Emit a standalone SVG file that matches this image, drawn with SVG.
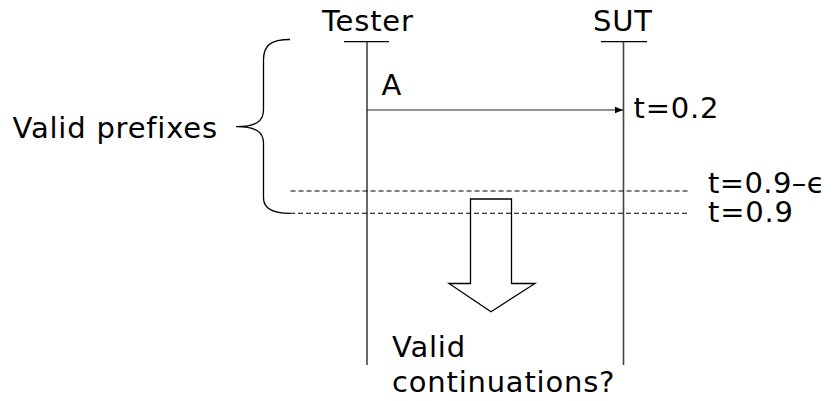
<svg xmlns="http://www.w3.org/2000/svg" width="834" height="401" viewBox="0 0 834 401">
  <defs>
    <style>
      .lbl { font-family: "DejaVu Sans", "Liberation Sans", sans-serif; font-size: 29px; letter-spacing: 0.8px; fill: #000; }
      .tight { letter-spacing: 0.4px; }
      .life { stroke: #444; stroke-width: 1.6; fill: none; }
      .head { stroke: #000; stroke-width: 1.2; fill: none; }
      .msg { stroke: #222; stroke-width: 1.2; fill: none; }
      .cut { stroke: #000; stroke-width: 1.1; stroke-dasharray: 5 3; fill: none; }
      .brace { stroke: #000; stroke-width: 1.3; fill: none; }
      .block { stroke: #000; stroke-width: 1.3; fill: #fff; }
    </style>
    <marker id="tip" viewBox="0 0 10 10" refX="10" refY="5" markerWidth="8" markerHeight="8" markerUnits="userSpaceOnUse" orient="auto">
      <path d="M0,1 L10,5 L0,9 z" fill="#000"/>
    </marker>
  </defs>

  <rect width="834" height="401" fill="#fff"/>

  <!-- lifeline: Tester -->
  <g id="tester">
    <text class="lbl" x="322" y="31">Tester</text>
    <line class="head" x1="344" y1="41.7" x2="389" y2="41.7"/>
    <line class="life" x1="367" y1="41.7" x2="367" y2="365"/>
  </g>

  <!-- lifeline: SUT -->
  <g id="sut">
    <text class="lbl" x="593" y="31">SUT</text>
    <line class="head" x1="601" y1="41.7" x2="647" y2="41.7"/>
    <line class="life" x1="623.5" y1="41.7" x2="623.5" y2="365"/>
  </g>

  <!-- bracket over the prefix region -->
  <g id="prefixes">
    <text class="lbl" x="12.5" y="138.3">Valid prefixes</text>
    <path class="brace" d="M290,39.5 C271,39.5 263.5,45 263.5,60 L263.5,110 C263.5,121 256,126.7 236,126.7 C256,126.7 263.5,132 263.5,143 L263.5,198 C263.5,208 271,213.3 290,213.3"/>
  </g>

  <!-- time labels -->
  <g id="t02"><text class="lbl" x="633.5" y="117.7">t=0.2</text></g>
  <g id="t09e"><text class="lbl tight" x="708" y="193.3">t=0.9–ϵ</text></g>
  <g id="t09"><text class="lbl" x="708" y="221.5">t=0.9</text></g>

  <!-- open block arrow towards continuations -->
  <g id="continuations">
    <path class="block" d="M470.5,199 L511.5,199 L511.5,283.5 L535,283.5 L491,311.7 L449,283.5 L470.5,283.5 z"/>
    <text class="lbl" x="392" y="356.7">Valid</text>
    <text class="lbl" x="392" y="391.7">continuations?</text>
  </g>

  <g id="connectors">
    <line class="msg" x1="367" y1="110" x2="623" y2="110" marker-end="url(#tip)"/>
    <text class="lbl" x="381.5" y="95">A</text>
    <line class="cut" x1="290.5" y1="191" x2="689" y2="191"/>
    <line class="cut" x1="290" y1="213.3" x2="689" y2="213.3"/>
  </g>
</svg>
